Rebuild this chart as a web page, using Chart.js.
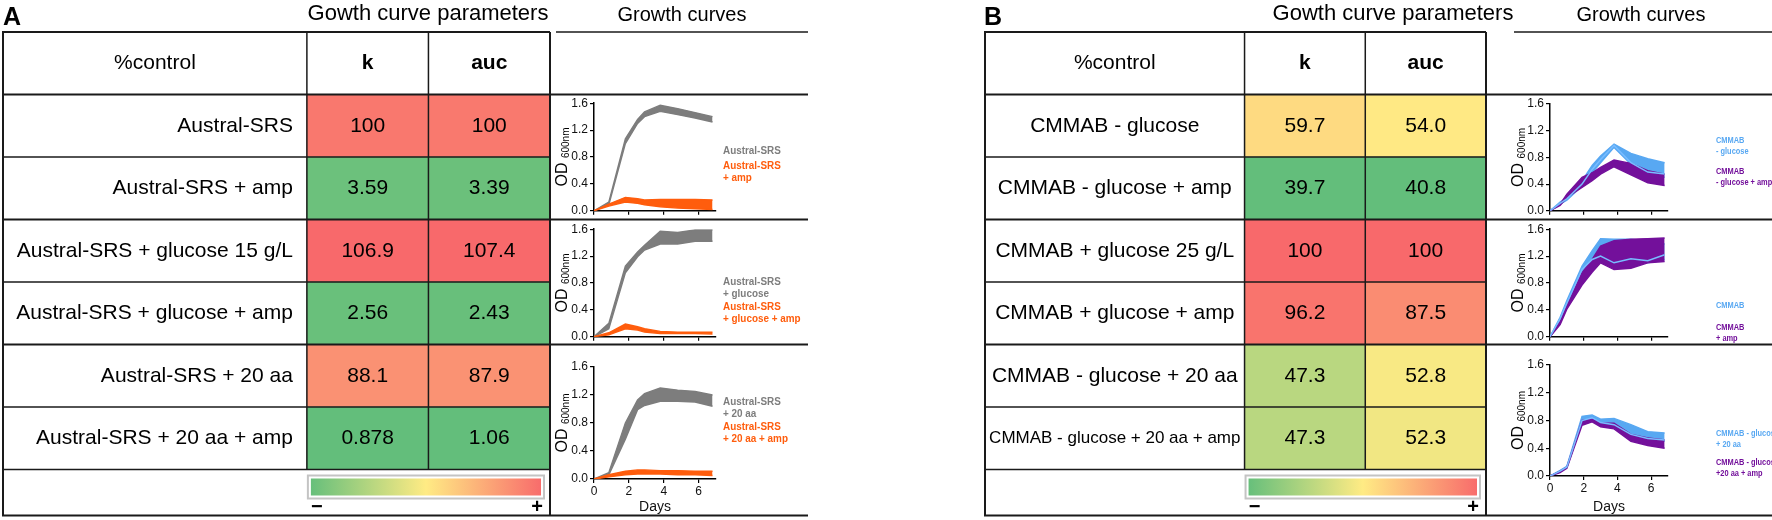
<!DOCTYPE html>
<html>
<head>
<meta charset="utf-8">
<title>Growth curve parameters</title>
<script src="https://cdn.jsdelivr.net/npm/chart.js@4.4.1/dist/chart.umd.min.js"></script>
<style>
  html, body { margin: 0; padding: 0; background: #fff; }
  #fig { position: relative; width: 1772px; height: 520px; overflow: hidden; font-family: "Liberation Sans", Arial, sans-serif; }
  #fig canvas { position: absolute; }
  .lbl { position: absolute; white-space: nowrap; color: #000; }
  .panel { font-size: 25px; font-weight: bold; top: 2px; line-height: 28px; }
  .head { font-size: 20px; top: 3px; line-height: 22px; width: 320px; text-align: center; }
  .head.big { font-size: 22px; top: 2px; }
</style>
</head>
<body>
<div id="fig">
  <canvas id="tableA" width="812" height="520" style="left:0;top:0"></canvas>
  <canvas id="tableB" width="960" height="520" style="left:812px;top:0"></canvas>
  <canvas id="gA1" width="258" height="126" style="left:550px;top:94px"></canvas>
  <canvas id="gA2" width="258" height="126" style="left:550px;top:220px"></canvas>
  <canvas id="gA3" width="258" height="170" style="left:550px;top:346px"></canvas>
  <canvas id="gB1" width="286" height="126" style="left:1486px;top:94px"></canvas>
  <canvas id="gB2" width="286" height="126" style="left:1486px;top:220px"></canvas>
  <canvas id="gB3" width="286" height="170" style="left:1486px;top:346px"></canvas>
  <div class="lbl panel" style="left:3px">A</div>
  <div class="lbl head big" style="left:268px">Gowth curve parameters</div>
  <div class="lbl head" style="left:522px">Growth curves</div>
  <div class="lbl panel" style="left:984px">B</div>
  <div class="lbl head big" style="left:1233px">Gowth curve parameters</div>
  <div class="lbl head" style="left:1481px">Growth curves</div>
</div>
<script>
const FONT = '"Liberation Sans", Arial, sans-serif';

// Table data (%control)
const cornerLabel = '%control';
const paramCols = ['k', 'auc'];

const rowsA = ['Austral-SRS', 'Austral-SRS + amp', 'Austral-SRS + glucose 15 g/L',
  'Austral-SRS + glucose + amp', 'Austral-SRS + 20 aa', 'Austral-SRS + 20 aa + amp'];
const kA = ['100', '3.59', '106.9', '2.56', '88.1', '0.878'];
const aucA = ['100', '3.39', '107.4', '2.43', '87.9', '1.06'];

const rowsB = ['CMMAB - glucose', 'CMMAB - glucose + amp', 'CMMAB + glucose 25 g/L',
  'CMMAB + glucose + amp', 'CMMAB - glucose + 20 aa', 'CMMAB - glucose + 20 aa + amp'];
const kB = ['59.7', '39.7', '100', '96.2', '47.3', '47.3'];
const aucB = ['54.0', '40.8', '100', '87.5', '52.8', '52.3'];

// Growth curves: OD600 bands (upper / lower) per day
const daysA = [0, 0.85, 1.8, 2.5, 2.9, 3.8, 4.8, 5.8, 6.8];
const grayHiA1 = [0, 0.13, 1.07, 1.36, 1.47, 1.57, 1.52, 1.46, 1.40];
const grayLoA1 = [0, 0.09, 1.0, 1.3, 1.4, 1.48, 1.43, 1.38, 1.32];
const orangeHiA1 = [0, 0.1, 0.2, 0.18, 0.16, 0.17, 0.17, 0.17, 0.16];
const orangeLoA1 = [0, 0.07, 0.13, 0.11, 0.09, 0.06, 0.04, 0.03, 0.02];

const grayHiA2 = [0, 0.2, 1.05, 1.26, 1.36, 1.57, 1.55, 1.59, 1.59];
const grayLoA2 = [0, 0.12, 0.95, 1.19, 1.29, 1.38, 1.38, 1.42, 1.42];
const orangeHiA2 = [0, 0.06, 0.19, 0.15, 0.12, 0.08, 0.07, 0.07, 0.07];
const orangeLoA2 = [0, 0.03, 0.12, 0.1, 0.07, 0.05, 0.05, 0.05, 0.04];

const grayHiA3 = [0, 0.09, 0.8, 1.13, 1.22, 1.3, 1.27, 1.25, 1.2];
const grayLoA3 = [0, 0.06, 0.57, 0.99, 1.05, 1.11, 1.11, 1.1, 1.04];
const orangeHiA3 = [0, 0.06, 0.11, 0.13, 0.13, 0.12, 0.12, 0.11, 0.11];
const orangeLoA3 = [0, 0.03, 0.06, 0.07, 0.07, 0.07, 0.06, 0.06, 0.05];

const daysB = [0, 0.6, 1.0, 1.9, 2.5, 3.0, 3.8, 4.8, 5.8, 6.8];
const blueHiB1 = [0, 0.13, 0.2, 0.45, 0.68, 0.82, 1.0, 0.86, 0.78, 0.72];
const blueLoB1 = [0, 0.1, 0.16, 0.37, 0.57, 0.72, 0.95, 0.7, 0.56, 0.5];
const blueMeanB1 = [0, 0.11, 0.18, 0.4, 0.62, 0.77, 0.98, 0.72, 0.58, 0.55];
const purpleHiB1 = [0, 0.1, 0.25, 0.5, 0.57, 0.65, 0.76, 0.71, 0.6, 0.55];
const purpleLoB1 = [0, 0.08, 0.2, 0.35, 0.45, 0.55, 0.66, 0.54, 0.42, 0.38];

const blueHiB2 = [0, 0.29, 0.54, 1.05, 1.28, 1.46, 1.45, 1.45, 1.42, 1.38];
const blueLoB2 = [0, 0.24, 0.46, 0.95, 1.1, 1.18, 1.08, 1.12, 1.1, 1.15];
const blueMeanB2 = [0, 0.27, 0.5, 1.0, 1.15, 1.2, 1.1, 1.16, 1.13, 1.22];
const purpleHiB2 = [0, 0.22, 0.46, 0.95, 1.15, 1.35, 1.43, 1.45, 1.46, 1.47];
const purpleLoB2 = [0, 0.18, 0.41, 0.77, 0.96, 1.1, 1.0, 1.02, 1.1, 1.12];

const blueHiB3 = [0, 0.08, 0.14, 0.86, 0.88, 0.82, 0.83, 0.74, 0.64, 0.62];
const blueLoB3 = [0, 0.06, 0.12, 0.78, 0.82, 0.75, 0.7, 0.58, 0.52, 0.5];
const blueMeanB3 = [0, 0.07, 0.13, 0.8, 0.84, 0.77, 0.74, 0.6, 0.54, 0.52];
const purpleHiB3 = [0, 0.07, 0.13, 0.8, 0.82, 0.76, 0.76, 0.6, 0.55, 0.52];
const purpleLoB3 = [0, 0.05, 0.11, 0.73, 0.78, 0.71, 0.68, 0.5, 0.44, 0.4];

// Legend labels (one sub-array per series)
const legendA1 = [['Austral-SRS'], ['Austral-SRS', '+ amp']];
const legendA2 = [['Austral-SRS', '+ glucose'], ['Austral-SRS', '+ glucose + amp']];
const legendA3 = [['Austral-SRS', '+ 20 aa'], ['Austral-SRS', '+ 20 aa + amp']];
const legendB1 = [['CMMAB', '- glucose'], ['CMMAB', '- glucose + amp']];
const legendB2 = [['CMMAB'], ['CMMAB', '+ amp']];
const legendB3 = [['CMMAB - glucose', '+ 20 aa'], ['CMMAB - glucose', '+20 aa + amp']];

// Colours
const GRAY = '#7d7d7d', ORANGE = '#ff5d0d', BLUE = '#58a8f2', PURPLE = '#73109b', BLUE_LINE = '#78bcff';
const LOW = [99, 190, 123], MID = [255, 235, 132], HIGH = [248, 105, 107];

const rgb = c => `rgb(${c.map(Math.round).join(',')})`;
const mix = (a, b, t) => a.map((v, i) => v + (b[i] - v) * t);

// 3-colour scale: min green, median yellow, max red
function heatColors(vals) {
  const v = vals.map(Number);
  const s = [...v].sort((a, b) => a - b);
  const n = s.length;
  const med = n % 2 ? s[(n - 1) / 2] : (s[n / 2 - 1] + s[n / 2]) / 2;
  const lo = s[0], hi = s[n - 1];
  return v.map(x => x <= med ? rgb(mix(LOW, MID, (x - lo) / (med - lo)))
                             : rgb(mix(MID, HIGH, (x - med) / (hi - med))));
}

// Draws texts, grid lines and the colour bar of the table
function tableDeco(o) {
  return {
    id: 'tableDeco',
    afterDatasetsDraw(chart) {
      const { ctx, chartArea: a } = chart;
      const x = chart.scales.x, y = chart.scales.y;
      const cats = chart.data.labels;
      const sets = chart.data.datasets;
      const rowH = y.getPixelForValue(1) - y.getPixelForValue(0);
      const edge = i => y.getPixelForValue(i) - rowH / 2;
      const xL = x.getPixelForValue(x.min), xK = x.getPixelForValue(0);
      const xA = x.getPixelForValue(1), xR = x.getPixelForValue(2);
      const bottom = a.bottom, tBottom = a.bottom + o.barRowH, gR = xR + o.growthW;

      ctx.save();
      ctx.fillStyle = '#000';
      ctx.textBaseline = 'middle';
      ctx.textAlign = 'center';
      const hy = y.getPixelForValue(0);
      ctx.font = '21px ' + FONT;
      ctx.fillText(cats[0], (xL + xK) / 2, hy);
      ctx.font = 'bold 21px ' + FONT;
      ctx.fillText(paramCols[0], (xK + xA) / 2, hy);
      ctx.fillText(paramCols[1], (xA + xR) / 2, hy);

      for (let i = 1; i < cats.length; i++) {
        const cy = y.getPixelForValue(i);
        // shrink long labels so they stay inside the column
        let size = 21;
        ctx.font = size + 'px ' + FONT;
        while (ctx.measureText(cats[i]).width > (xK - xL) - 6 && size > 12) {
          size -= 0.5;
          ctx.font = size + 'px ' + FONT;
        }
        if (o.alignRight) {
          ctx.textAlign = 'right';
          ctx.fillText(cats[i], xK - 14, cy);
        } else {
          ctx.textAlign = 'center';
          ctx.fillText(cats[i], (xL + xK) / 2, cy);
        }
        ctx.font = '21px ' + FONT;
        ctx.textAlign = 'center';
        ctx.fillText(sets[0].values[i - 1], (xK + xA) / 2, cy);
        ctx.fillText(sets[1].values[i - 1], (xA + xR) / 2, cy);
      }

      // colour bar
      const gx1 = xK + 1, gx2 = xR - 6, gy1 = bottom + 6, gy2 = bottom + 29;
      const grad = ctx.createLinearGradient(gx1, 0, gx2, 0);
      grad.addColorStop(0, rgb(LOW));
      grad.addColorStop(0.5, rgb(MID));
      grad.addColorStop(1, rgb(HIGH));
      ctx.strokeStyle = '#c4c4c4';
      ctx.lineWidth = 2;
      ctx.strokeRect(gx1, gy1, gx2 - gx1, gy2 - gy1);
      ctx.fillStyle = grad;
      ctx.fillRect(gx1 + 3, gy1 + 3, gx2 - gx1 - 6, gy2 - gy1 - 6);
      ctx.fillStyle = '#000';
      ctx.font = 'bold 20px ' + FONT;
      ctx.fillText('\u2212', xK + 10, bottom + 38);
      ctx.fillText('+', xR - 13, bottom + 38);

      // grid lines
      const line = (x1, y1, x2, y2, w) => {
        ctx.lineWidth = w;
        ctx.beginPath();
        ctx.moveTo(x1, y1);
        ctx.lineTo(x2, y2);
        ctx.stroke();
      };
      ctx.strokeStyle = '#1a1a1a';
      for (let i = 1; i <= cats.length; i++) {
        const major = o.groups.includes(i);
        line(xL, edge(i), major ? gR : xR, edge(i), major ? 2 : 1.5);
      }
      line(xK, a.top, xK, bottom, 1.5);
      line(xA, a.top, xA, bottom, 1.5);
      line(xL - 1, a.top, xR, a.top, 2);
      line(xL, a.top, xL, tBottom, 2);
      line(xR, a.top, xR, tBottom, 2);
      line(xL - 1, tBottom, gR, tBottom, 2);
      line(xR + o.headGap, a.top, gR, a.top, 1.5);
      ctx.restore();
    }
  };
}

function makeTable(id, rows, kVals, aucVals, o) {
  const cats = [cornerLabel].concat(rows);
  const clear = 'rgba(0,0,0,0)';
  new Chart(document.getElementById(id), {
    type: 'bar',
    data: {
      labels: cats,
      datasets: [
        { label: paramCols[0], values: kVals, data: cats.map((c, i) => i ? [0, 1] : null),
          backgroundColor: [clear].concat(heatColors(kVals)) },
        { label: paramCols[1], values: aucVals, data: cats.map((c, i) => i ? [1, 2] : null),
          backgroundColor: [clear].concat(heatColors(aucVals)) }
      ]
    },
    options: {
      indexAxis: 'y',
      responsive: false,
      animation: false,
      layout: { padding: o.pad },
      datasets: { bar: { categoryPercentage: 1, barPercentage: 1, grouped: false, borderWidth: 0 } },
      scales: {
        x: { type: 'linear', min: -o.labelUnits, max: 2, display: false },
        y: { type: 'category', display: false }
      },
      plugins: { legend: { display: false }, tooltip: { enabled: false } }
    },
    plugins: [tableDeco(o)]
  });
}

// OD600 axis title and the coloured legend text beside each growth chart
function growthDeco(o) {
  return {
    id: 'growthDeco',
    afterDraw(chart) {
      const { ctx, chartArea: a } = chart;
      ctx.save();
      ctx.translate(a.left - 33, (a.top + a.bottom) / 2);
      ctx.rotate(-Math.PI / 2);
      ctx.fillStyle = '#000';
      ctx.textBaseline = 'alphabetic';
      ctx.font = '16px ' + FONT;
      const w1 = ctx.measureText('OD ').width;
      ctx.font = '10px ' + FONT;
      const w2 = ctx.measureText('600nm').width;
      const start = -(w1 + w2) / 2;
      ctx.font = '16px ' + FONT;
      ctx.fillText('OD ', start, 6);
      ctx.font = '10px ' + FONT;
      ctx.fillText('600nm', start + w1, 8);
      ctx.restore();

      ctx.save();
      ctx.textAlign = 'left';
      ctx.textBaseline = 'middle';
      ctx.font = `bold ${o.fontSize}px ${FONT}`;
      o.legend.forEach((group, gi) => {
        ctx.fillStyle = o.colors[gi];
        group.forEach((t, li) => {
          ctx.save();
          ctx.translate(a.right + o.dx, o.groupY[gi] + li * o.lineH);
          ctx.scale(o.squeeze, 1);
          ctx.fillText(t, 0, 0);
          ctx.restore();
        });
      });
      ctx.restore();
    }
  };
}

// layers listed bottom to top; a band has hi/lo, a line has mean
function makeGrowth(id, days, layers, o) {
  const pts = arr => arr.map((v, j) => ({ x: days[j], y: v }));
  const datasets = [];
  for (let i = layers.length - 1; i >= 0; i--) {
    const L = layers[i];
    if (L.mean) {
      datasets.push({ data: pts(L.mean), borderColor: L.color, borderWidth: 1.5, fill: false });
    } else {
      datasets.push({ data: pts(L.lo), borderColor: L.color, borderWidth: 1.4, fill: false });
      datasets.push({ data: pts(L.hi), borderColor: L.color, borderWidth: 1.4,
        backgroundColor: L.color, fill: '-1' });
    }
  }
  const tickFont = { family: FONT, size: 12 };
  new Chart(document.getElementById(id), {
    type: 'line',
    data: { datasets },
    options: {
      responsive: false,
      animation: false,
      layout: { padding: o.pad },
      elements: { point: { radius: 0 }, line: { tension: 0 } },
      scales: {
        x: {
          type: 'linear', min: 0, max: 7,
          afterFit: s => { s.height = o.xH; },
          border: { color: '#000', width: 1.5 },
          grid: { drawOnChartArea: false, color: '#000', lineWidth: 1.2, tickLength: 4 },
          ticks: { display: o.showX, stepSize: 2, includeBounds: false, color: '#111', font: tickFont, padding: 1, maxRotation: 0 },
          title: { display: o.showX, text: 'Days', color: '#111', font: { family: FONT, size: 14 }, padding: { top: 1, bottom: 0 } }
        },
        y: {
          min: 0, max: 1.6,
          afterFit: s => { s.width = o.yW; },
          border: { color: '#000', width: 1.5 },
          grid: { drawOnChartArea: false, color: '#000', lineWidth: 1.2, tickLength: 4 },
          ticks: { stepSize: 0.4, color: '#111', font: tickFont, padding: 2, callback: v => v.toFixed(1) }
        }
      },
      plugins: { legend: { display: false }, tooltip: { enabled: false } }
    },
    plugins: [growthDeco(o)]
  });
}

makeTable('tableA', rowsA, kA, aucA, {
  pad: { left: 3, right: 262, top: 32, bottom: 50.5 }, labelUnits: 2.5,
  alignRight: true, barRowH: 46, growthW: 258, headGap: 6, groups: [1, 3, 5]
});
makeTable('tableB', rowsB, kB, aucB, {
  pad: { left: 173, right: 286, top: 32, bottom: 50.5 }, labelUnits: 2.15,
  alignRight: false, barRowH: 46, growthW: 286, headGap: 28, groups: [1, 3, 5]
});

const aBase = { yW: 44, dx: 7, fontSize: 11, squeeze: 0.9, lineH: 12, colors: [GRAY, ORANGE] };
makeGrowth('gA1', daysA, [
  { hi: grayHiA1, lo: grayLoA1, color: GRAY },
  { hi: orangeHiA1, lo: orangeLoA1, color: ORANGE }
], Object.assign({}, aBase, { pad: { top: 7, right: 92, left: 0, bottom: 0 }, xH: 6, showX: false,
  legend: legendA1, groupY: [57, 72] }));
makeGrowth('gA2', daysA, [
  { hi: grayHiA2, lo: grayLoA2, color: GRAY },
  { hi: orangeHiA2, lo: orangeLoA2, color: ORANGE }
], Object.assign({}, aBase, { pad: { top: 7, right: 92, left: 0, bottom: 0 }, xH: 5, showX: false,
  legend: legendA2, groupY: [62, 87] }));
makeGrowth('gA3', daysA, [
  { hi: grayHiA3, lo: grayLoA3, color: GRAY },
  { hi: orangeHiA3, lo: orangeLoA3, color: ORANGE }
], Object.assign({}, aBase, { pad: { top: 21, right: 92, left: 0, bottom: 0 }, xH: 37, showX: true,
  legend: legendA3, groupY: [56, 81] }));

const bBase = { yW: 64, dx: 48, fontSize: 9.5, squeeze: 0.78, lineH: 11, colors: [BLUE, PURPLE] };
makeGrowth('gB1', daysB, [
  { hi: blueHiB1, lo: blueLoB1, color: BLUE },
  { hi: purpleHiB1, lo: purpleLoB1, color: PURPLE },
  { mean: blueMeanB1, color: BLUE_LINE }
], Object.assign({}, bBase, { pad: { top: 10, right: 104, left: 0, bottom: 0 }, xH: 6, showX: false,
  legend: legendB1, groupY: [46, 77] }));
makeGrowth('gB2', daysB, [
  { hi: blueHiB2, lo: blueLoB2, color: BLUE },
  { hi: purpleHiB2, lo: purpleLoB2, color: PURPLE },
  { mean: blueMeanB2, color: BLUE_LINE }
], Object.assign({}, bBase, { pad: { top: 8, right: 104, left: 0, bottom: 0 }, xH: 8, showX: false,
  legend: legendB2, groupY: [85, 107] }));
makeGrowth('gB3', daysB, [
  { hi: blueHiB3, lo: blueLoB3, color: BLUE },
  { hi: purpleHiB3, lo: purpleLoB3, color: PURPLE },
  { mean: blueMeanB3, color: BLUE_LINE }
], Object.assign({}, bBase, { pad: { top: 19, right: 104, left: 0, bottom: 0 }, xH: 40, showX: true,
  legend: legendB3, groupY: [87, 116] }));
</script>
</body>
</html>
